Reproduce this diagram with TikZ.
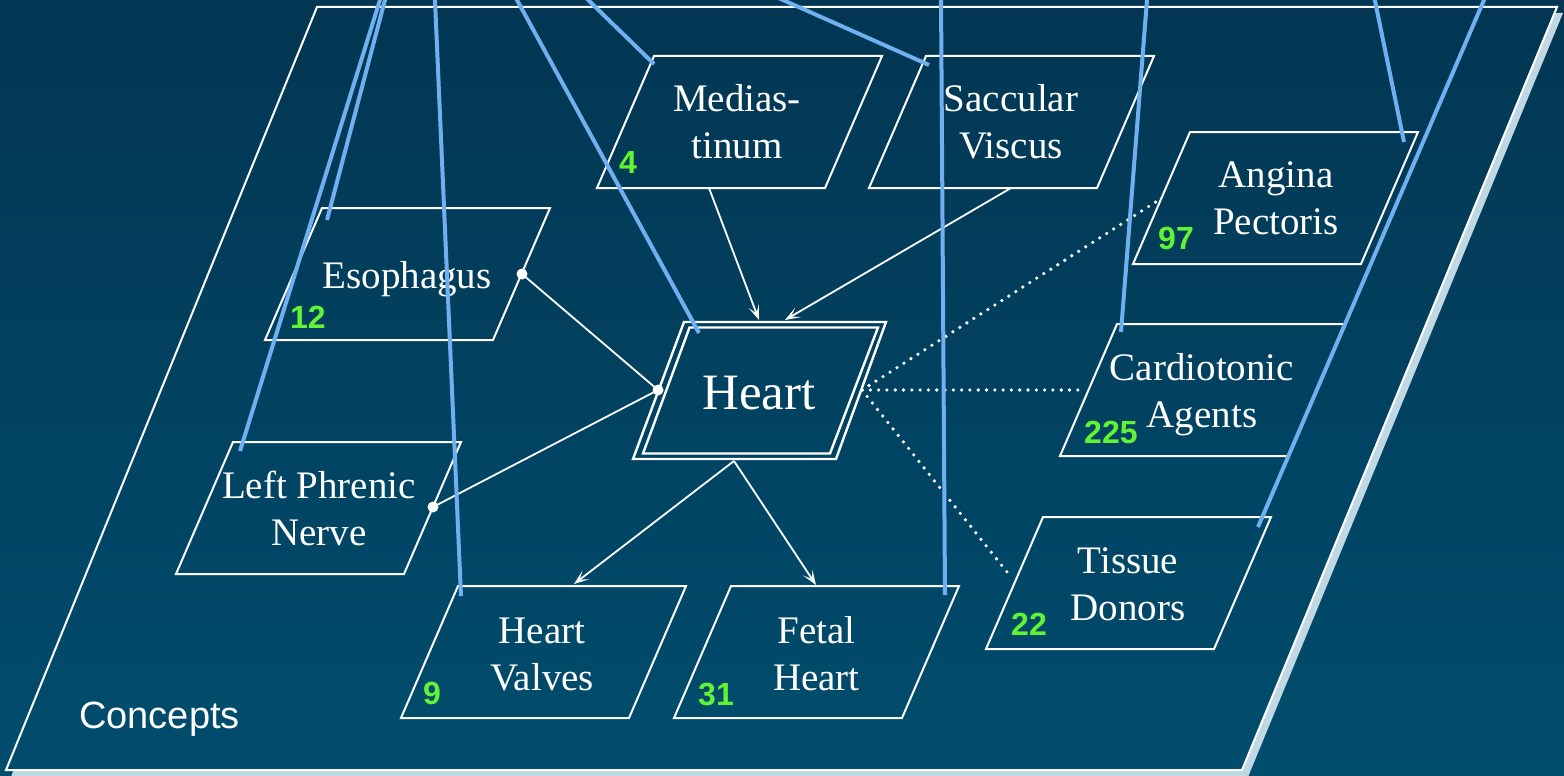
\documentclass[tikz,border=0pt]{standalone}
\usepackage{fontspec}
\setmainfont{Liberation Serif}
\newfontfamily\sansfam{Liberation Sans}
\usetikzlibrary{arrows.meta}
\definecolor{bgtop}{RGB}{2,54,82}
\definecolor{bgbot}{RGB}{1,77,110}
\definecolor{shadowc}{RGB}{192,216,228}
\definecolor{linkblue}{RGB}{112,176,240}
\definecolor{numgreen}{RGB}{96,244,52}
\tikzset{
  box/.style={draw=white, line width=2pt, line join=miter},
  plane/.style={draw=white, line width=2pt, line join=miter},
  lbl/.style={text=white, align=center, inner sep=0pt, font=\fontsize{39}{47}\selectfont},
  cnt/.style={text=numgreen, inner sep=0pt, anchor=base west, font=\sansfam\bfseries\fontsize{32}{38}\selectfont},
  link/.style={draw=white, line width=1.8pt},
  arr/.style={link, -{Stealth[length=15pt,width=11pt,inset=8pt]}},
  dotlink/.style={draw=white, line width=3.6pt, line cap=round, dash pattern=on 0pt off 8.3pt},
  endpt/.style={circle, fill=white, inner sep=0pt, minimum size=11pt},
  uplink/.style={draw=linkblue, line width=4pt},
}
\newcommand{\pgram}[2]{\draw[box] (#1,#2) -- ++(228,0) -- ++(-57,132) -- ++(-228,0) -- cycle;}
\begin{document}
\begin{tikzpicture}[x=1pt,y=-1pt]
\useasboundingbox (0,0) rectangle (1564,776);
\clip (0,0) rectangle (1564,776);
\shade[top color=bgtop,bottom color=bgbot] (0,0) rectangle (1564,776);
% plane shadow and plane
\fill[shadowc] (1554.5,13) -- (1563,13) -- (1248,777) -- (11,777) -- (13.5,770) -- (1242,770) -- cycle;
\draw[plane] (317,7) -- (1557,7) -- (1242,770) -- (6,770) -- cycle;
% concept boxes
\pgram{654}{56}
\pgram{926}{56}
\pgram{322}{208}
\pgram{233}{442}
\pgram{1190}{132}
\pgram{1117}{324}
\pgram{1043}{517}
\pgram{458}{586}
\pgram{731}{586}
% Heart double border
\draw[box, line width=2.4pt] (684,322) -- (886,322) -- (836,459) -- (633,459) -- cycle;
\draw[box, line width=2.4pt] (689.5,327.5) -- (878,327.5) -- (830,453.5) -- (643,453.5) -- cycle;
% labels
\node[lbl] (med) at (737,126) {\strut Medias-\\\strut tinum};
\node[lbl] (sac) at (1011,126) {\strut Saccular\\\strut Viscus};
\node[lbl, anchor=base] (eso) at (407,288) {Esophagus};
\node[lbl] (lpn) at (319,512.6) {\strut Left Phrenic\\\strut Nerve};
\node[lbl] (ang) at (1276,202) {\strut Angina\\\strut Pectoris};
\node[lbl] (car) at (1202,395) {\strut Cardiotonic\\\strut Agents};
\node[lbl] (tis) at (1128,588) {\strut Tissue\\\strut Donors};
\node[lbl] (hv) at (542,657.6) {\strut Heart\\\strut Valves};
\node[lbl] (fh) at (816.5,657.6) {\strut Fetal\\\strut Heart};
\node[text=white, inner sep=0pt, anchor=base, font=\fontsize{51}{60}\selectfont] (heart) at (759,409) {Heart};
\node[text=white, inner sep=0pt, anchor=base west, font=\sansfam\fontsize{38}{45}\selectfont] (concepts) at (79,728) {Concepts};
% counts
\node[cnt] (n-med) at (619,173) {4};
\node[cnt] (n-eso) at (290,328) {12};
\node[cnt] (n-ang) at (1158,249) {97};
\node[cnt] (n-car) at (1084,443) {225};
\node[cnt] (n-tis) at (1011,635) {22};
\node[cnt] (n-fh) at (698,705) {31};
\node[cnt] (n-hv) at (423,704) {9};
% connector end points
\coordinate (med-s) at (709,188);
\coordinate (sac-s) at (1011,188);
\coordinate (heart-n1) at (759,320);
\coordinate (heart-n2) at (785,320);
\coordinate (heart-w) at (658,390);
\coordinate (heart-s) at (734,461);
\coordinate (heart-e) at (862,390);
\coordinate (eso-e) at (522,274);
\coordinate (lpn-e) at (433,507);
\coordinate (hv-n) at (574,584);
\coordinate (fh-n) at (816,585);
\coordinate (ang-w) at (1162,198);
\coordinate (car-w) at (1083,390);
\coordinate (tis-w) at (1011,577);
% connectors
\draw[arr] (med-s) -- (heart-n1);
\draw[arr] (sac-s) -- (heart-n2);
\draw[link] (eso-e) -- (heart-w);
\draw[link] (lpn-e) -- (heart-w);
\node[endpt] (d1) at (eso-e) {};
\node[endpt] (d2) at (heart-w) {};
\node[endpt] (d3) at (lpn-e) {};
\draw[arr] (heart-s) -- (hv-n);
\draw[arr] (heart-s) -- (fh-n);
\draw[dotlink] (heart-e) -- (ang-w);
\draw[dotlink] (heart-e) -- (car-w);
\draw[dotlink] (heart-e) -- (tis-w);
% links up to the upper layer
\coordinate (lpn-tl) at (240,451);   \coordinate (up1) at (381.2,-4);
\coordinate (eso-tl) at (327,220);   \coordinate (up2) at (386,-4);
\coordinate (hv-tl) at (461,596);    \coordinate (up3) at (434.8,-4);
\coordinate (heart-tl) at (699,333); \coordinate (up4) at (514.8,-4);
\coordinate (med-tl) at (654,64);    \coordinate (up5) at (584,-4);
\coordinate (sac-tl) at (929,65);    \coordinate (up6) at (774,-4);
\coordinate (fh-tr) at (945,595);    \coordinate (up7) at (941,-4);
\coordinate (car-tl) at (1121,332);  \coordinate (up8) at (1147.3,-4);
\coordinate (ang-tr) at (1404,142);  \coordinate (up9) at (1374,-4);
\coordinate (tis-tr) at (1258,527);  \coordinate (up10) at (1485.7,-4);
\draw[uplink] (lpn-tl) -- (up1);
\draw[uplink] (eso-tl) -- (up2);
\draw[uplink] (hv-tl) -- (up3);
\draw[uplink] (heart-tl) -- (up4);
\draw[uplink] (med-tl) -- (up5);
\draw[uplink] (sac-tl) -- (up6);
\draw[uplink] (fh-tr) -- (up7);
\draw[uplink] (car-tl) -- (up8);
\draw[uplink] (ang-tr) -- (up9);
\draw[uplink] (tis-tr) -- (up10);
\end{tikzpicture}
\end{document}
